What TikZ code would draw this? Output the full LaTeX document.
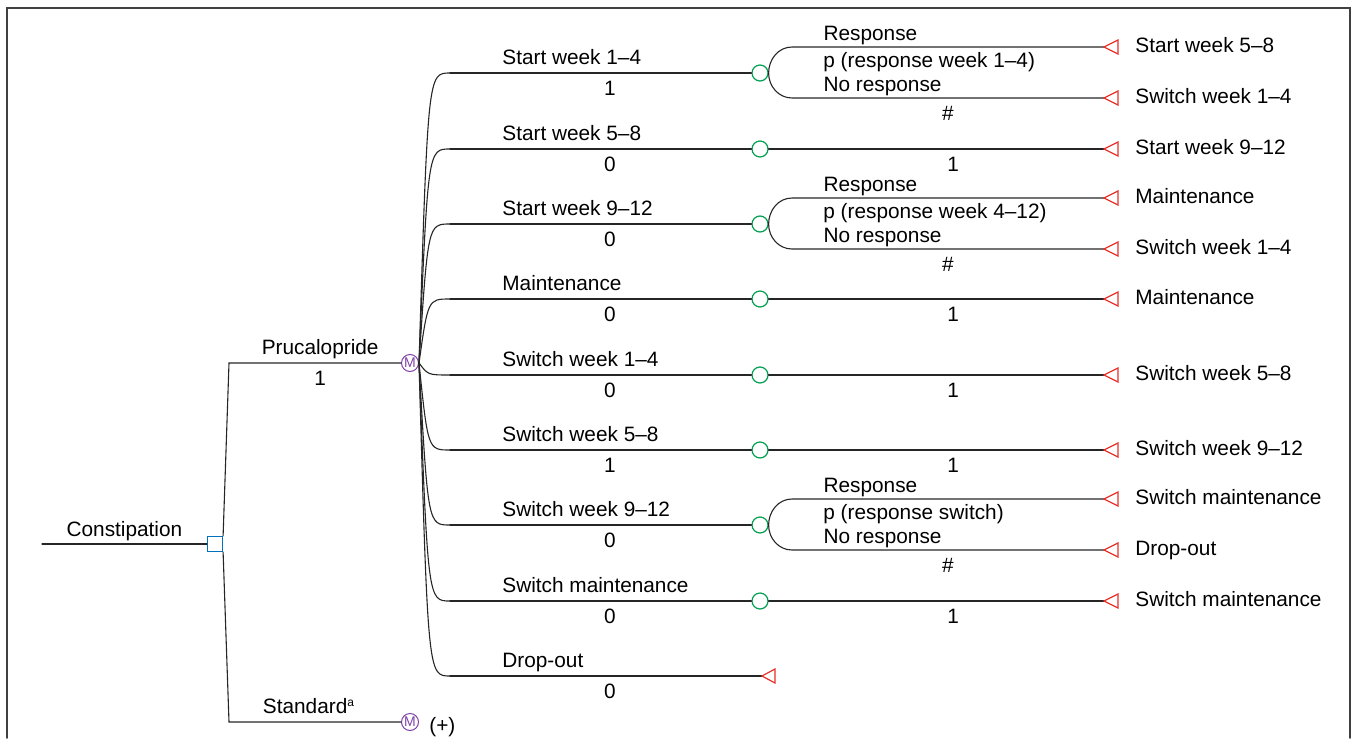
\documentclass[tikz,border=0pt]{standalone}
\usepackage{fontspec}
\setmainfont{Liberation Sans}
\usetikzlibrary{calc}

\begin{document}
\begin{tikzpicture}
	[x=0.5pt,y=-0.5pt,line cap=round,
	font=\fontsize{10.4}{12}\selectfont,
	%Styles
	branch/.style={draw=black!85,line width=0.55pt},
	frame line/.style={draw=black!75,line width=0.8pt},
	decision/.style={rectangle,draw=decisioncolor,fill=white,line width=0.6pt,minimum size=7.5pt,inner sep=0pt},
	markov/.style={circle,draw=markovcolor,fill=white,line width=0.5pt,minimum size=8.5pt,inner sep=0pt,text=markovcolor,font=\fontsize{7}{7}\selectfont},
	chance/.style={circle,draw=chancecolor,fill=white,line width=0.6pt,minimum size=8pt,inner sep=0pt},
	terminal/.style={draw=terminalcolor,line width=0.6pt,line join=miter},
	name label/.style={anchor=south west,inner sep=1.5pt,text depth=2.5pt},
	prob label/.style={anchor=north,inner sep=3pt,text height=8pt},
	upper label/.style={anchor=south west,inner sep=0.6pt,text depth=2.5pt},
	lower label/.style={anchor=north west,inner sep=2pt,text height=8pt},
	end label/.style={anchor=west,inner sep=2pt,text height=8pt,text depth=2.5pt}
	]
	
	%Colors
	\definecolor{decisioncolor}{RGB}{0,112,192}	%decision node
	\definecolor{markovcolor}{RGB}{128,64,168}	%markov nodes
	\definecolor{chancecolor}{RGB}{0,160,80}	%chance nodes
	\definecolor{terminalcolor}{RGB}{232,48,40}	%terminal nodes
	
	\useasboundingbox (0,0) rectangle (1358,738);
	\draw[frame line] (7,738) -- (7,8) -- (1350,8) -- (1350,738);
	
	%Decision
	\coordinate (root) at (42,544);
	\node[decision] (dec) at (215,544) {};
	\draw[branch] (root) -- node[above,inner sep=1.5pt] (constip) {Constipation} (dec);
	
	\coordinate (pj) at (229,363);
	\coordinate (sj) at (229,722);
	\node[markov] (mp) at (410,363) {M};
	\node[markov] (ms) at (410,722) {M};
	\draw[branch] (dec.north east) -- (pj) -- node[above,inner sep=1.5pt,text depth=2.5pt,pos=0.53] (pruca) {Prucalopride} node[prob label,pos=0.53] (pprob) {1} (mp);
	\draw[branch] (dec.south east) -- (sj) -- node[above,inner sep=1.5pt,text depth=2.5pt,xshift=-3pt] (stand) {Standard\textsuperscript{\fontsize{6}{6}\selectfont a}} (ms);
	\node[right,inner sep=2pt,xshift=3pt,yshift=-2.5pt] (plus) at (ms.east) {(+)};
	
	%Markov states
	\foreach \i/\y/\name/\prob in {1/73/Start week 1--4/1,2/149/Start week 5--8/0,3/224/Start week 9--12/0,
		4/299/Maintenance/0,5/375/Switch week 1--4/0,6/450/Switch week 5--8/1,
		7/525/Switch week 9--12/0,8/601/Switch maintenance/0,9/676/Drop-out/0}
	{
		\coordinate (b\i) at (450,\y);
		\draw[branch] (mp.east) .. controls (428,\y) .. (b\i);
		\node[name label] (bn\i) at (499,\y) {\name};
		\node[prob label] (bp\i) at (610,\y) {\prob};
	}
	
	%Chance nodes
	\foreach \i/\y in {1/73,2/149,3/224,4/299,5/375,6/450,7/525,8/601}
	{
		\node[chance] (c\i) at (760,\y) {};
		\draw[branch] (b\i) -- (c\i);
	}
	
	%Drop-out ends here
	\coordinate (t9) at (762,676);
	\draw[branch] (b9) -- (t9);
	\draw[terminal] (t9) -- ++(13,-7) -- ++(0,14) -- cycle;
	
	%Single outcome
	\foreach \i/\y/\term in {2/149/Start week 9--12,4/299/Maintenance,5/375/Switch week 5--8,
		6/450/Switch week 9--12,8/601/Switch maintenance}
	{
		\coordinate (t\i) at (1104,\y);
		\draw[branch] (c\i) -- node[prob label,pos=0.55] (one\i) {1} (t\i);
		\draw[terminal] (t\i) -- ++(14,-7) -- ++(0,14) -- cycle;
		\node[end label] (e\i) at (1131,\y) {\term};
	}
	
	%Response / no response
	\foreach \i/\y/\p/\resp/\noresp in {1/73/p (response week 1--4)/Start week 5--8/Switch week 1--4,
		3/224/p (response week 4--12)/Maintenance/Switch week 1--4,
		7/525/p (response switch)/Switch maintenance/Drop-out}
	{
		\coordinate (r\i) at (792,\y-26);
		\coordinate (n\i) at (792,\y+25);
		\coordinate (tr\i) at (1104,\y-26);
		\coordinate (tn\i) at (1104,\y+25);
		\draw[branch] (c\i.east) to[out=90,in=180] (r\i) -- (tr\i);
		\draw[branch] (c\i.east) to[out=-90,in=180] (n\i) -- node[prob label,pos=0.5] (hash\i) {\#} (tn\i);
		\node[upper label] (rl\i) at (822,\y-26) {Response};
		\node[lower label] (pl\i) at (819,\y-26) {\p};
		\node[upper label] (nl\i) at (822,\y+25) {No response};
		\draw[terminal] (tr\i) -- ++(14,-7) -- ++(0,14) -- cycle;
		\draw[terminal] (tn\i) -- ++(14,-7) -- ++(0,14) -- cycle;
		\node[end label] (er\i) at (1131,\y-26) {\resp};
		\node[end label] (en\i) at (1131,\y+25) {\noresp};
	}
\end{tikzpicture}
\end{document}
